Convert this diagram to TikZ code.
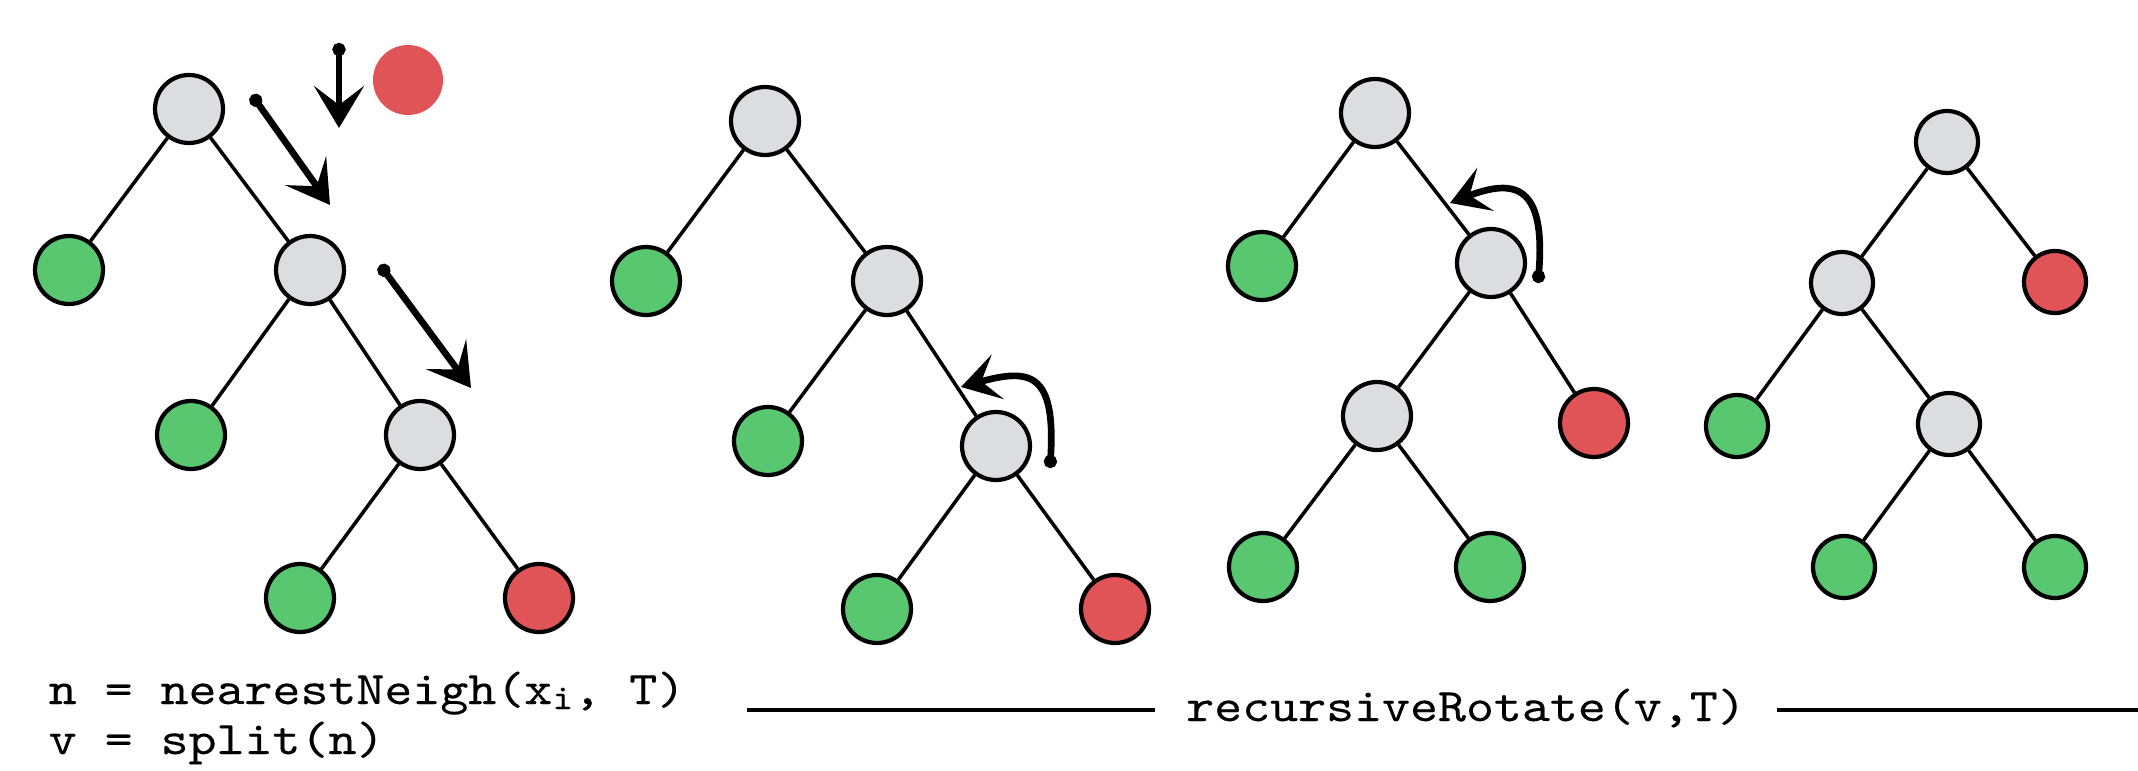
\documentclass[tikz,border=0pt]{standalone}
\usepackage{fontspec}
\setmonofont{lmmono10-regular.otf}[FakeStretch=1.14, FakeBold=0.2]
\usetikzlibrary{arrows.meta,calc}
\definecolor{ink}{HTML}{000000}
\definecolor{nodegrey}{HTML}{DCDDDF}
\definecolor{leafgreen}{HTML}{58C770}
\definecolor{leafred}{HTML}{E05458}
\tikzset{
  nd/.style={circle, draw=ink, line width=1.2pt, fill=nodegrey, minimum size=6.8mm, inner sep=0pt},
  ok/.style={nd, fill=leafgreen},
  bad/.style={nd, fill=leafred},
  sm/.style={minimum size=6.2mm},
  ed/.style={line width=1pt, draw=ink},
  hand/.style={line width=1.9pt, line cap=round, draw=ink,
               {Circle[length=1.3mm]}-{Stealth[length=4.2mm, width=5mm, inset=1.9mm]}},
  turn/.style={hand, {Circle[length=1.3mm]}-{Stealth[length=3.8mm, width=4.6mm, inset=1.7mm]}},
  rule/.style={line width=0.95pt, draw=ink},
  lbl/.style={font=\fontsize{13.3}{16}\selectfont\ttfamily, inner sep=0pt},
}
\newcommand{\subi}{\raisebox{-0.25ex}{\fontsize{10}{10}\selectfont i}}

\begin{document}
\begin{tikzpicture}
\useasboundingbox (0,0) rectangle (21.38,7.70);

% new point comes down the tree
\node[nd] (a1) at (1.89,6.61) {};
\node[ok] (l1) at (0.69,5.00) {};
\node[nd] (b1) at (3.10,5.00) {};
\node[ok] (m1) at (1.91,3.35) {};
\node[nd] (c1) at (4.20,3.35) {};
\node[ok] (g1) at (3.00,1.72) {};
\node[bad] (h1) at (5.39,1.72) {};
\node[bad, draw=none, minimum size=7mm] (x1) at (4.08,6.90) {};
\draw[ed] (a1) -- (l1); \draw[ed] (a1) -- (b1);
\draw[ed] (b1) -- (m1); \draw[ed] (b1) -- (c1);
\draw[ed] (c1) -- (g1); \draw[ed] (c1) -- (h1);
\coordinate (p1) at (3.39,7.27); \coordinate (q1) at (3.39,6.42);
\coordinate (p2) at (2.52,6.75); \coordinate (q2) at (3.30,5.65);
\coordinate (p3) at (3.80,5.05); \coordinate (q3) at (4.71,3.82);
\draw[hand] (p1) -- (q1); \draw[hand] (p2) -- (q2); \draw[hand] (p3) -- (q3);

% first rotation
\node[nd] (a2) at (7.65,6.49) {};
\node[ok] (l2) at (6.46,4.89) {};
\node[nd] (b2) at (8.87,4.89) {};
\node[ok] (m2) at (7.68,3.29) {};
\node[nd] (c2) at (9.96,3.24) {};
\node[ok] (g2) at (8.77,1.61) {};
\node[bad] (h2) at (11.15,1.61) {};
\draw[ed] (a2) -- (l2); \draw[ed] (a2) -- (b2);
\draw[ed] (b2) -- (m2); \draw[ed] (b2) -- (c2);
\draw[ed] (c2) -- (g2); \draw[ed] (c2) -- (h2);
\coordinate (p4) at (10.50,3.02); \coordinate (q4) at (9.61,3.83);
\draw[turn] (p4) .. controls (10.56,3.98) and (10.30,4.02) .. (q4);

% second rotation
\node[nd] (a3) at (13.75,6.57) {};
\node[ok] (l3) at (12.62,5.04) {};
\node[nd] (b3) at (14.91,5.07) {};
\node[nd] (c3) at (13.77,3.54) {};
\node[bad] (r3) at (15.94,3.47) {};
\node[ok] (g3) at (12.63,2.03) {};
\node[ok] (k3) at (14.90,2.03) {};
\draw[ed] (a3) -- (l3); \draw[ed] (a3) -- (b3);
\draw[ed] (b3) -- (c3); \draw[ed] (b3) -- (r3);
\draw[ed] (c3) -- (g3); \draw[ed] (c3) -- (k3);
\coordinate (p5) at (15.38,4.87); \coordinate (q5) at (14.50,5.67);
\draw[turn] (p5) .. controls (15.46,5.85) and (15.15,5.92) .. (q5);

% balanced result
\node[nd, sm] (a4) at (19.47,6.28) {};
\node[nd, sm] (b4) at (18.42,4.87) {};
\node[bad, sm] (r4) at (20.55,4.88) {};
\node[ok, sm] (l4) at (17.37,3.44) {};
\node[nd, sm] (c4) at (19.49,3.46) {};
\node[ok, sm] (g4) at (18.44,2.03) {};
\node[ok, sm] (k4) at (20.55,2.03) {};
\draw[ed] (a4) -- (b4); \draw[ed] (a4) -- (r4);
\draw[ed] (b4) -- (l4); \draw[ed] (b4) -- (c4);
\draw[ed] (c4) -- (g4); \draw[ed] (c4) -- (k4);

% captions
\node[lbl, anchor=base west] (nn) at (0.48,0.66) {n = nearestNeigh(x\subi, T)};
\node[lbl, anchor=base west] (sv) at (0.48,0.16) {v = split(n)};
\node[lbl, anchor=base, inner xsep=3.1mm] (rr) at (14.66,0.49) {recursiveRotate(v,T)};
\coordinate (ll) at (7.47,0.60);
\coordinate (lr) at (21.38,0.60);
\draw[rule] (ll) -- (ll -| rr.west);
\draw[rule] (rr.east |- lr) -- (lr);
\end{tikzpicture}
\end{document}
